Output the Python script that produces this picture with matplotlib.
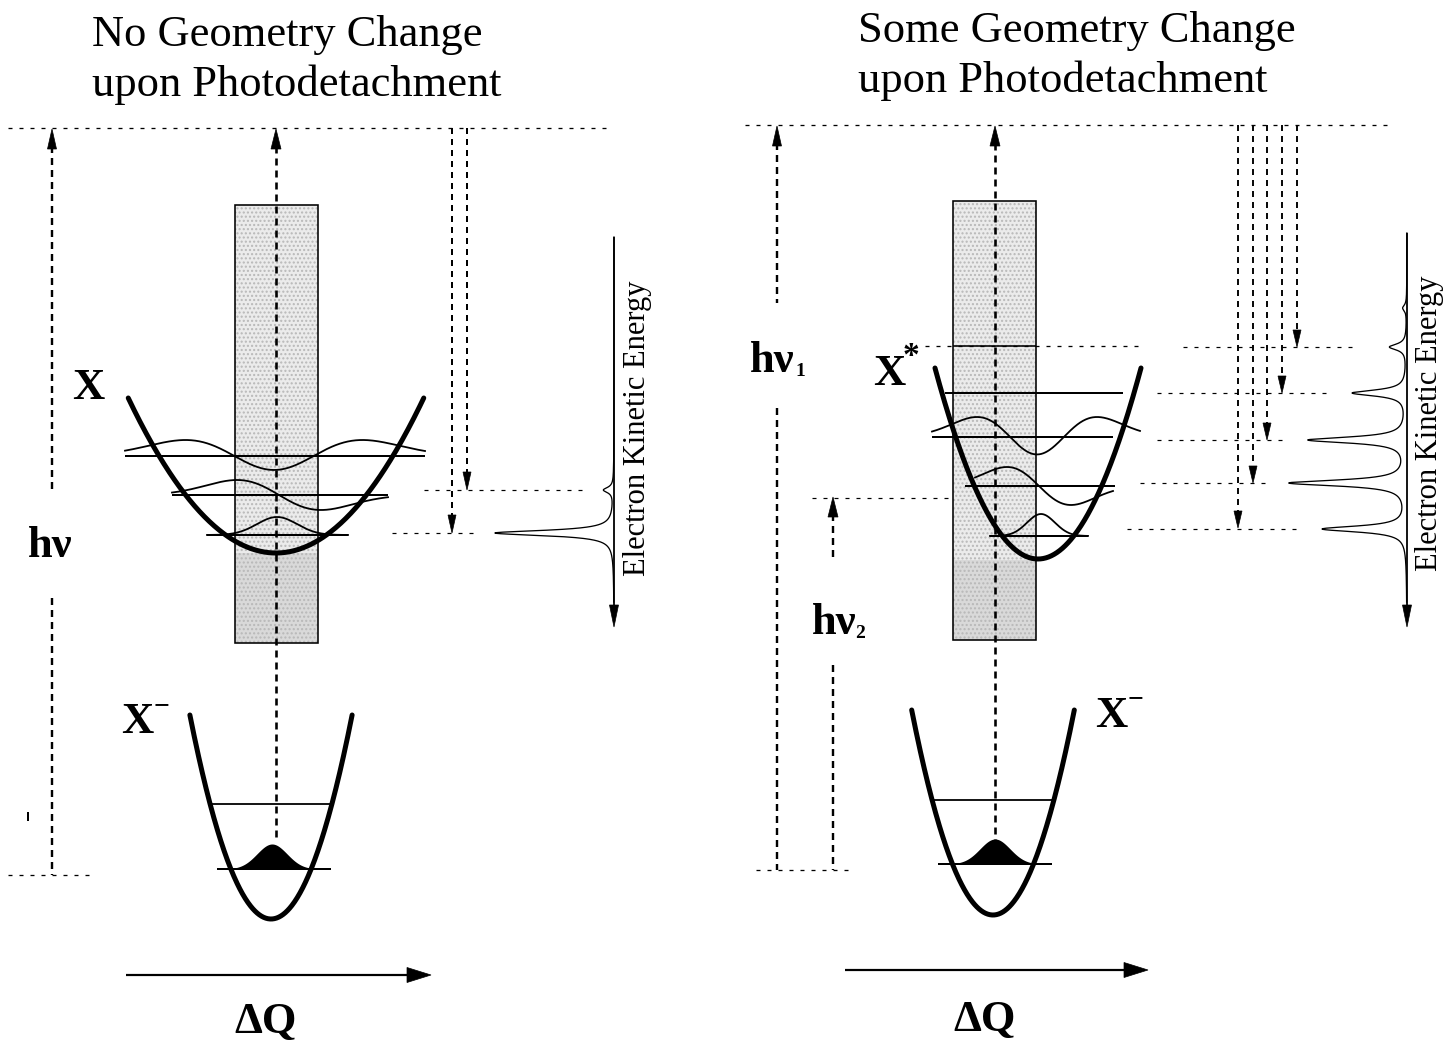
import numpy as np
import matplotlib
matplotlib.use("Agg")
import matplotlib.pyplot as plt
from matplotlib.patches import Rectangle, Polygon

plt.rcParams['lines.scale_dashes'] = False
plt.rcParams['hatch.linewidth'] = 1.0

W, H = 1453, 1052
PX = 0.72  # points per pixel at dpi 100
SERIF = ['Liberation Serif', 'DejaVu Serif']

# ------------------------------------------------------------------ data
panel_title_lines = [["No Geometry Change", "upon Photodetachment"],
                     ["Some Geometry Change", "upon Photodetachment"]]

# anion (X-) wells: centre, bottom, curvature, top of walls
anion_cx = [271, 993]
anion_ymin = [919, 915]
anion_k = [0.031, 0.031]
anion_ytop = [715, 710]
anion_levels = [869, 804]          # left panel v=0, v=1
anion_levels_r = [864, 800]        # right panel v=0, v=1
anion_wf_amp = 25
anion_wf_sigma = 15

# neutral X (no geometry change)
X_cx, X_ymin, X_k, X_ytop = 276, 553, 0.0071, 398
X_levels = [535, 495, 456]
X_level_x = [(207, 348), (172, 388), (125, 425)]
X_wf_centre = [277, 279, 274]
X_wf_scale = [20, 42, 56]
X_wf_amp = [18, 15, 16]

# neutral X* (some geometry change)
Xs_cx, Xs_ymin, Xs_k, Xs_ytop = 1038, 559, 0.018, 368
Xs_levels = [536, 486, 437, 393]
Xs_level_x = [(990, 1088), (965, 1115), (932, 1113), (945, 1123)]
Xs_wf_x = [(990, 1088), (975, 1113), (932, 1140)]
Xs_wf_centre = [1041, 1039, 1037]
Xs_wf_scale = [14, 32, 38]
Xs_wf_amp = [22, 19, 20]
Xs_top_level = 346

# photoelectron spectra (peak position along energy axis, intensity)
spec_left_pos = [490, 533]
spec_left_int = [10, 119]
spec_right_pos = [308, 347, 393, 440, 483, 529]
spec_right_int = [4, 17, 54, 98, 117, 84]

# downward arrows (x, tip y) ending at final-state levels
left_drop_x = [467, 452]
left_drop_tip = [490, 533]
right_drop_x = [1297, 1282, 1267, 1253, 1238]
right_drop_tip = [347, 393, 440, 483, 528]

# ------------------------------------------------------------------ helpers
fig = plt.figure(figsize=(W / 100, H / 100), dpi=100)
ax = fig.add_axes([0, 0, 1, 1])
ax.set_xlim(0, W)
ax.set_ylim(H, 0)
ax.axis('off')

HEAVY_DASH = (0, (7 * PX, 5 * PX))
MED_DASH = (0, (6 * PX, 5 * PX))
DOT_DASH = (0, (4 * PX, 7 * PX))


def vline(x, y0, y1, ls, lw, **kw):
    ax.plot([x, x], [y0, y1], color='black', lw=lw * PX, ls=ls,
            solid_capstyle='butt', dash_capstyle='butt', **kw)


def hline(y, x0, x1, ls, lw, **kw):
    ax.plot([x0, x1], [y, y], color='black', lw=lw * PX, ls=ls,
            solid_capstyle='butt', dash_capstyle='butt', **kw)


def head_v(x, ytip, up, length, width):
    s = 1 if up else -1
    pts = [(x, ytip), (x - width / 2, ytip + s * length), (x + width / 2, ytip + s * length)]
    ax.add_patch(Polygon(pts, closed=True, facecolor='black', edgecolor='black', lw=0.5, zorder=5))


def head_h(xtip, y, length, width):
    pts = [(xtip, y), (xtip - length, y - width / 2), (xtip - length, y + width / 2)]
    ax.add_patch(Polygon(pts, closed=True, facecolor='black', edgecolor='black', lw=0.5, zorder=5))


def well(cx, ymin, k, ytop, lw=5):
    dx = np.sqrt((ymin - ytop) / k)
    x = np.linspace(cx - dx, cx + dx, 300)
    y = ymin - k * (x - cx) ** 2
    ax.plot(x, y, color='black', lw=lw * PX, solid_capstyle='round', zorder=4)


def hermite_wave(n, xa, xb, c, s, amp, level):
    x = np.linspace(xa, xb, 300)
    q = (x - c) / s
    if n == 0:
        f = np.exp(-q ** 2 / 2)
    elif n == 1:
        f = -q * np.exp(-q ** 2 / 2) / 0.6065
    else:
        f = (2 * q ** 2 - 1) * np.exp(-q ** 2 / 2) / 1.146
    ax.plot(x, level - amp * f, color='black', lw=1.8 * PX, zorder=4)


def shaded_rect(x0, x1, y0, y1, ysplit):
    ax.add_patch(Rectangle((x0, y0), x1 - x0, ysplit - y0, facecolor='#ebebeb', edgecolor='none', zorder=1))
    ax.add_patch(Rectangle((x0, ysplit), x1 - x0, y1 - ysplit, facecolor='#d9d9d9', edgecolor='none', zorder=1))
    ax.add_patch(Rectangle((x0, y0), x1 - x0, y1 - y0, facecolor='none', edgecolor='#b8b8b8',
                           hatch='....', lw=0, zorder=1))
    ax.add_patch(Rectangle((x0, y0), x1 - x0, y1 - y0, facecolor='none', edgecolor='black',
                           lw=1.6 * PX, zorder=2))


def spectrum(axis_x, ytop, ybot, pos, inten, w=4.0):
    y = np.linspace(ytop, ybot - 25, 3000)
    x = np.full_like(y, axis_x, dtype=float)
    for p, h in zip(pos, inten):
        x -= h / (1 + ((y - p) / w) ** 2)
    ax.plot(x, y, color='black', lw=1.3 * PX, zorder=3)
    vline(axis_x, ytop, ybot - 14, '-', 1.8)
    head_v(axis_x, ybot, False, 22, 9)


def label(x, y, s, size=32, weight='bold', **kw):
    ax.text(x, y, s, fontsize=size, fontweight=weight, family=SERIF,
            ha='center', va='center', **kw)


# ------------------------------------------------------------------ titles
for (l1, l2), tx, ty in zip(panel_title_lines, [92, 858], [35, 31]):
    ax.text(tx, ty, l1, fontsize=32, family=SERIF, ha='left', va='center')
    ax.text(tx, ty + 50, l2, fontsize=32, family=SERIF, ha='left', va='center')

# ================================================================== LEFT PANEL
hline(128, 8, 610, DOT_DASH, 1.3)
hline(875, 8, 95, DOT_DASH, 1.3)

# h nu arrow
vline(52, 146, 493, HEAVY_DASH, 2.4)
vline(52, 598, 875, HEAVY_DASH, 2.4)
head_v(52, 129, True, 20, 9)
label(50, 546, 'hν')

shaded_rect(235, 318, 205, 643, 553)

# centre arrow
vline(276, 146, 840, HEAVY_DASH, 2.6)
head_v(276, 129, True, 20, 10)

# neutral X
well(X_cx, X_ymin, X_k, X_ytop)
for lv, (xa, xb), c, s, a, n in zip(X_levels, X_level_x, X_wf_centre, X_wf_scale, X_wf_amp, range(3)):
    hline(lv, xa, xb, '-', 2.0)
    hermite_wave(n, xa, xb, c, s, a, lv)
label(88, 388, 'X')

# anion X-
well(anion_cx[0], anion_ymin[0], anion_k[0], anion_ytop[0])
hline(anion_levels[0], 217, 331, '-', 2.0)
dx1 = np.sqrt((anion_ymin[0] - anion_levels[1]) / anion_k[0])
hline(anion_levels[1], anion_cx[0] - dx1, anion_cx[0] + dx1, '-', 1.8)
xg = np.linspace(226, 318, 200)
yg = anion_levels[0] - anion_wf_amp * np.exp(-((xg - 272) / anion_wf_sigma) ** 2 / 2)
ax.fill_between(xg, yg, anion_levels[0], color='black', zorder=4, lw=0)
label(137, 722, 'X')
label(161, 707, '−', size=20)

# drops to final levels
for x, tip in zip(left_drop_x, left_drop_tip):
    vline(x, 128, tip - 14, MED_DASH, 2.0)
    head_v(x, tip, False, 18, 8)
hline(490, 424, 582, DOT_DASH, 1.2)
hline(533, 392, 475, DOT_DASH, 1.2)

spectrum(614, 237, 627, spec_left_pos, spec_left_int, w=3.2)
ax.text(637, 428, 'Electron Kinetic Energy', fontsize=22, family=SERIF,
        rotation=90, ha='center', va='center')

# Delta Q
hline(975, 126, 410, '-', 2.2)
head_h(431, 975, 24, 15)
label(266, 1022, 'ΔQ')

ax.plot([28, 28], [813, 820], color='black', lw=2 * PX)

# ================================================================== RIGHT PANEL
hline(125, 745, 1392, DOT_DASH, 1.3)
hline(870, 756, 855, DOT_DASH, 1.3)

# h nu1
vline(777, 143, 303, HEAVY_DASH, 2.4)
vline(777, 408, 870, HEAVY_DASH, 2.4)
head_v(777, 126, True, 20, 9)
label(772, 361, 'hν')
label(800, 372, '1', size=14)

# h nu2
vline(833, 514, 560, HEAVY_DASH, 2.4)
vline(833, 665, 870, HEAVY_DASH, 2.4)
head_v(833, 497, True, 20, 10)
hline(498, 812, 953, DOT_DASH, 1.2)
label(834, 623, 'hν')
label(860, 634, '2', size=14)

shaded_rect(953, 1036, 201, 640, 560)

vline(995, 143, 840, HEAVY_DASH, 2.6)
head_v(995, 126, True, 20, 10)

# neutral X*
well(Xs_cx, Xs_ymin, Xs_k, Xs_ytop)
for lv, (xa, xb) in zip(Xs_levels, Xs_level_x):
    hline(lv, xa, xb, '-', 2.0)
for n, ((xa, xb), c, s, a) in enumerate(zip(Xs_wf_x, Xs_wf_centre, Xs_wf_scale, Xs_wf_amp)):
    hermite_wave(n, xa, xb, c, s, a, Xs_levels[n])
hline(Xs_top_level, 925, 1138, DOT_DASH, 1.3)
hline(Xs_top_level, 953, 1036, '-', 1.6)
label(889, 374, 'X')
label(911, 356, '*', size=24)

# anion X-
well(anion_cx[1], anion_ymin[1], anion_k[1], anion_ytop[1])
hline(anion_levels_r[0], 938, 1052, '-', 2.0)
dx1 = np.sqrt((anion_ymin[1] - anion_levels_r[1]) / anion_k[1])
hline(anion_levels_r[1], anion_cx[1] - dx1, anion_cx[1] + dx1, '-', 1.8)
xg = np.linspace(949, 1041, 200)
yg = anion_levels_r[0] - anion_wf_amp * np.exp(-((xg - 995) / anion_wf_sigma) ** 2 / 2)
ax.fill_between(xg, yg, anion_levels_r[0], color='black', zorder=4, lw=0)
label(1111, 716, 'X')
label(1135, 700, '−', size=20)

# drops to final levels
for x, tip in zip(right_drop_x, right_drop_tip):
    vline(x, 125, tip - 14, MED_DASH, 1.9)
    head_v(x, tip, False, 17, 8)
hline(347, 1183, 1353, DOT_DASH, 1.2)
hline(393, 1157, 1327, DOT_DASH, 1.2)
hline(440, 1157, 1285, DOT_DASH, 1.2)
hline(483, 1140, 1268, DOT_DASH, 1.2)
hline(529, 1127, 1297, DOT_DASH, 1.2)

spectrum(1407, 233, 627, spec_right_pos, spec_right_int, w=3.6)
ax.text(1430, 423, 'Electron Kinetic Energy', fontsize=22, family=SERIF,
        rotation=90, ha='center', va='center')

hline(970, 845, 1126, '-', 2.2)
head_h(1148, 970, 24, 15)
label(985, 1020, 'ΔQ')

fig.savefig('out.png', dpi=100, facecolor='white')
